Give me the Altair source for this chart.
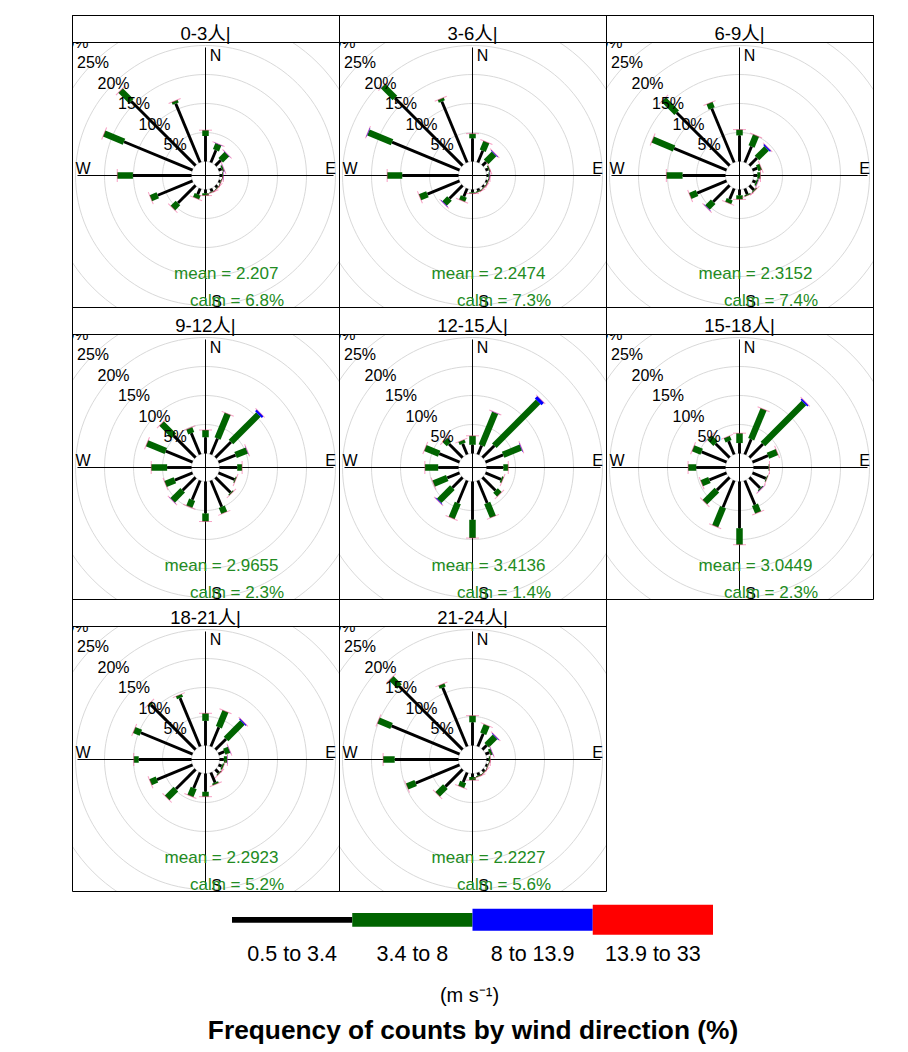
import math
import altair as alt
import pandas as pd

# ---------------- data ----------------
directions = ["N", "NNE", "NE", "ENE", "E", "ESE", "SE", "SSE",
              "S", "SSW", "SW", "WSW", "W", "WNW", "NW", "NNW"]
panel_labels = ["0-3人|", "3-6人|", "6-9人|", "9-12人|",
                "12-15人|", "15-18人|", "18-21人|", "21-24人|"]
mean_ws = ["2.207", "2.2474", "2.3152", "2.9655", "3.4136", "3.0449", "2.2923", "2.2227"]
calm_pct = ["6.8", "7.3", "7.4", "2.3", "1.4", "2.3", "5.2", "5.6"]
speed_bands = ["0.5 to 3.4", "3.4 to 8", "8 to 13.9", "13.9 to 33"]

# frequency (%) by direction (N ... NNW) for each speed band
h0_3_b1 = [4.4, 2.3, 1.3, 0.6, 0.45, 0.35, 0.45, 0.55, 0.65, 1.1, 4.3, 6.5, 10.1, 12.8, 15.7, 11.0]
h0_3_b2 = [1.0, 1.1, 1.5, 0.3, 0.15, 0.15, 0.15, 0.15, 0.4, 0.75, 1.25, 1.3, 2.7, 3.7, 2.6, 0.5]
h0_3_b3 = [0, 0.05, 0.05, 0.05, 0.05, 0, 0, 0, 0, 0, 0, 0, 0, 0, 0, 0]

h3_6_b1 = [4.0, 2.2, 0.9, 0.5, 0.35, 0.3, 0.35, 0.4, 0.5, 1.5, 3.2, 6.0, 9.7, 12.6, 16.5, 11.4]
h3_6_b2 = [0.8, 1.65, 1.95, 0.25, 0.2, 0.2, 0.15, 0.2, 0.2, 0.8, 1.2, 1.4, 2.6, 4.4, 2.9, 0.5]
h3_6_b3 = [0, 0, 0.15, 0, 0.05, 0, 0, 0, 0, 0, 0.1, 0, 0, 0.1, 0, 0]

h6_9_b1 = [4.5, 3.0, 1.85, 0.9, 0.65, 0.6, 1.1, 1.1, 1.0, 2.0, 4.0, 5.5, 7.4, 9.8, 12.9, 10.1]
h6_9_b2 = [1.0, 2.05, 2.35, 0.65, 0.55, 0.3, 0.2, 0.2, 0.7, 0.7, 1.4, 1.3, 2.8, 4.0, 3.2, 1.0]
h6_9_b3 = [0, 0, 0.25, 0, 0, 0.05, 0, 0, 0, 0, 0.1, 0, 0, 0, 0, 0]

h9_12_b1 = [2.8, 3.0, 3.8, 3.2, 3.05, 3.0, 3.7, 4.9, 5.5, 3.6, 3.15, 3.3, 4.2, 5.0, 5.3, 4.0]
h9_12_b2 = [1.25, 4.6, 6.7, 2.1, 0.85, 0.2, 0.2, 1.15, 1.4, 1.3, 2.45, 1.75, 2.75, 3.5, 3.0, 0.9]
h9_12_b3 = [0, 0, 0.4, 0.05, 0, 0, 0, 0, 0, 0, 0.05, 0, 0, 0, 0, 0]

h12_15_b1 = [1.5, 1.7, 2.9, 3.3, 2.9, 2.9, 3.2, 4.2, 6.6, 4.2, 2.5, 2.3, 3.5, 3.8, 3.3, 2.0]
h12_15_b2 = [1.55, 6.1, 10.7, 3.3, 0.85, 0.3, 0.95, 2.6, 3.15, 2.8, 3.2, 2.55, 2.3, 2.6, 1.0, 0.6]
h12_15_b3 = [0, 0.05, 0.6, 0.1, 0, 0, 0, 0, 0, 0, 0.15, 0, 0, 0, 0, 0]

h15_18_b1 = [1.8, 2.85, 3.3, 2.9, 2.6, 2.5, 2.6, 4.55, 8.05, 5.0, 3.1, 3.2, 5.05, 4.65, 3.4, 2.5]
h15_18_b2 = [1.7, 5.6, 10.0, 1.7, 0.15, 0.2, 0.2, 1.45, 2.85, 3.55, 2.95, 1.45, 1.4, 1.6, 1.5, 0.8]
h15_18_b3 = [0, 0, 0.3, 0, 0, 0, 0.05, 0, 0, 0, 0, 0, 0, 0, 0, 0]

h18_21_b1 = [4.25, 3.6, 2.6, 1.1, 0.75, 0.6, 0.8, 1.9, 3.15, 2.9, 4.8, 6.65, 9.1, 9.65, 10.9, 9.05]
h18_21_b2 = [1.3, 3.0, 4.0, 0.9, 0.55, 0.3, 0.2, 0.3, 0.85, 1.5, 2.15, 1.2, 0.85, 1.25, 0.35, 0.55]
h18_21_b3 = [0, 0, 0.2, 0.05, 0.05, 0, 0, 0, 0, 0, 0, 0, 0, 0, 0, 0]

h21_24_b1 = [4.0, 2.4, 1.05, 0.7, 0.4, 0.35, 0.45, 0.5, 0.6, 1.8, 4.2, 8.2, 11.0, 12.7, 15.4, 11.0]
h21_24_b2 = [1.15, 1.6, 2.05, 0.45, 0.25, 0.15, 0.15, 0.2, 0.55, 0.9, 1.9, 1.6, 2.0, 2.45, 2.0, 0.6]
h21_24_b3 = [0, 0, 0.15, 0.05, 0, 0, 0, 0, 0, 0, 0, 0, 0, 0, 0, 0]

band4_none = [0, 0, 0, 0, 0, 0, 0, 0, 0, 0, 0, 0, 0, 0, 0, 0]

ring_levels = [0, 5, 10, 15, 20, 25, 30, 35, 40]

panel_bands = [
    [h0_3_b1, h0_3_b2, h0_3_b3, band4_none],
    [h3_6_b1, h3_6_b2, h3_6_b3, band4_none],
    [h6_9_b1, h6_9_b2, h6_9_b3, band4_none],
    [h9_12_b1, h9_12_b2, h9_12_b3, band4_none],
    [h12_15_b1, h12_15_b2, h12_15_b3, band4_none],
    [h15_18_b1, h15_18_b2, h15_18_b3, band4_none],
    [h18_21_b1, h18_21_b2, h18_21_b3, band4_none],
    [h21_24_b1, h21_24_b2, h21_24_b3, band4_none],
]

# ---------------- style / layout ----------------
band_colors = ["#000000", "#006400", "#0000FF", "#FF0000"]
paddle_widths = [2.9, 6.5, 9.5, 13]
legend_thick = [5.7, 13.7, 22, 30]
FONT = "Liberation Sans, Arial, Noto Sans CJK SC"
GREEN_TXT = "#228B22"

K = 5.8            # px per percent
OFF = 14 / K       # hole (offset) in percent units
UPPER = 128 / K
PW, PH, STRIP = 267, 292, 27
CX, CY = 133.5, 160.5
xs = alt.Scale(domain=[-CX / K, (PW - CX) / K], nice=False, zero=False)
ys = alt.Scale(domain=[-(PH - CY) / K, CY / K], nice=False, zero=False)


def X(f):
    return alt.X(f, type="quantitative", scale=xs, axis=None)


def Y(f):
    return alt.Y(f, type="quantitative", scale=ys, axis=None)


# rings (shared)
ring_rows = []
for lv in ring_levels:
    r = OFF + lv
    for t in range(0, 361, 3):
        a = math.radians(t)
        ring_rows.append({"level": lv, "t": t, "x": r * math.sin(a), "y": r * math.cos(a)})
rings_df = pd.DataFrame(ring_rows)

ring_lab_df = pd.DataFrame([
    {"lab": f"{lv}%", "x": (OFF + lv) * math.sin(math.radians(315)),
     "y": (OFF + lv) * math.cos(math.radians(315))}
    for lv in ring_levels if lv > 0
])

axes_df = pd.DataFrame([
    {"x0": -UPPER, "y0": 0, "x1": UPPER, "y1": 0},
    {"x0": 0, "y0": -UPPER, "x1": 0, "y1": UPPER},
])

compass_df = pd.DataFrame([
    {"lab": "N", "x": 10 / K, "y": 119.5 / K},
    {"lab": "E", "x": 125 / K, "y": 6.5 / K},
    {"lab": "W", "x": -122.5 / K, "y": 6.5 / K},
    {"lab": "S", "x": 11 / K, "y": -126.5 / K},
])

one = pd.DataFrame({"a": [0]})


def make_panel(idx):
    label = panel_labels[idx]
    bands = panel_bands[idx]
    seg_rows, tick_rows = [], []
    for di, d in enumerate(directions):
        ang_deg = di * 22.5
        a = math.radians(ang_deg)
        r = OFF
        for bi, b in enumerate(speed_bands):
            v = bands[bi][di]
            r1 = r + v
            if v > 0:
                seg_rows.append({"dir": d, "band": b,
                                 "x0": r * math.sin(a), "y0": r * math.cos(a),
                                 "x1": r1 * math.sin(a), "y1": r1 * math.cos(a)})
            r = r1
        tick_rows.append({"dir": d, "angle": ang_deg, "x": r * math.sin(a), "y": r * math.cos(a)})
    seg_df = pd.DataFrame(seg_rows)
    tick_df = pd.DataFrame(tick_rows)

    layers = []
    layers.append(alt.Chart(rings_df).mark_line(color="#D9D9D9", strokeWidth=1, clip=True).encode(
        x=X("x"), y=Y("y"), detail="level:N", order="t:Q"))
    layers.append(alt.Chart(axes_df).mark_rule(color="black", strokeWidth=1).encode(
        x=X("x0"), y=Y("y0"), x2="x1:Q", y2="y1:Q"))
    for b, c, w in zip(speed_bands, band_colors, paddle_widths):
        layers.append(alt.Chart(seg_df).transform_filter(alt.datum.band == b).mark_rule(
            color=c, strokeWidth=w, strokeCap="butt").encode(
            x=X("x0"), y=Y("y0"), x2="x1:Q", y2="y1:Q"))
    layers.append(alt.Chart(tick_df).mark_point(
        shape="M-1,0L1,0", filled=False, size=169, strokeWidth=1, color="#F0307F", opacity=0.45).encode(
        x=X("x"), y=Y("y"), angle=alt.Angle("angle:Q", scale=alt.Scale(domain=[0, 360], range=[0, 360]))))
    layers.append(alt.Chart(compass_df).mark_text(font=FONT, fontSize=16, color="black",
                                                  align="center", baseline="middle", clip=True).encode(
        x=X("x"), y=Y("y"), text="lab:N"))
    layers.append(alt.Chart(ring_lab_df).mark_text(font=FONT, fontSize=16, color="black",
                                                   align="center", baseline="middle", clip=True).encode(
        x=X("x"), y=Y("y"), text="lab:N"))
    stats_df = pd.DataFrame([
        {"lab": f"mean = {mean_ws[idx]}", "x": 73 / K, "y": -98.3 / K},
        {"lab": f"calm = {calm_pct[idx]}%", "x": 78.5 / K, "y": -125 / K},
    ])
    layers.append(alt.Chart(stats_df).mark_text(font=FONT, fontSize=17, color=GREEN_TXT,
                                                align="right", baseline="middle", clip=True).encode(
        x=X("x"), y=Y("y"), text="lab:N"))
    # strip
    layers.append(alt.Chart(one).mark_rect(fill="white", stroke="black", strokeWidth=1).encode(
        x=alt.value(0.5), x2=alt.value(PW + 0.5), y=alt.value(0.5), y2=alt.value(STRIP + 0.5)))
    layers.append(alt.Chart(one).mark_text(font=FONT, fontSize=18.5, color="black",
                                           align="center", baseline="alphabetic").encode(
        x=alt.value(PW / 2), y=alt.value(25), text=alt.value(label)))
    # panel border
    layers.append(alt.Chart(one).mark_rect(fill="white", fillOpacity=0, stroke="black", strokeWidth=1).encode(
        x=alt.value(0.5), x2=alt.value(PW + 0.5), y=alt.value(0.5), y2=alt.value(PH + 0.5)))
    return alt.layer(*layers).properties(width=PW, height=PH)


panels = [make_panel(i) for i in range(len(panel_labels))]
grid = alt.concat(*panels, columns=3, spacing=0, bounds="flush")

# ---------------- legend ----------------
LW, LH = 801, 145
leg_df = pd.DataFrame({"band": speed_bands})
leg_x = alt.X("band:N", sort=speed_bands,
              scale=alt.Scale(domain=speed_bands, range=[160, 641], paddingInner=0, paddingOuter=0),
              axis=None)
leg_layers = []
LCY = 27.8
for b, c, t in zip(speed_bands, band_colors, legend_thick):
    leg_layers.append(alt.Chart(leg_df).transform_filter(alt.datum.band == b).mark_rect(color=c).encode(
        x=leg_x, y=alt.value(LCY - t / 2), y2=alt.value(LCY + t / 2)))
leg_layers.append(alt.Chart(leg_df).mark_text(font=FONT, fontSize=21.5, color="black",
                                              align="center", baseline="alphabetic").encode(
    x=leg_x, y=alt.value(69), text="band:N"))
leg_layers.append(alt.Chart(one).mark_text(font=FONT, fontSize=20, color="black",
                                           align="center", baseline="alphabetic").encode(
    x=alt.value(397.5), y=alt.value(110), text=alt.value("(m s⁻¹)")))
leg_layers.append(alt.Chart(one).mark_text(font=FONT, fontSize=26.3, fontWeight="bold", color="black",
                                           align="center", baseline="alphabetic").encode(
    x=alt.value(401), y=alt.value(147), text=alt.value("Frequency of counts by wind direction (%)")))
legend = alt.layer(*leg_layers).properties(width=LW, height=LH)

chart = alt.vconcat(grid, legend, spacing=0).properties(
    padding={"left": 64, "top": 7, "right": 0, "bottom": 0}
).configure_view(strokeWidth=0)

chart.save("out.html", embed_options={"renderer": "svg", "actions": False})
